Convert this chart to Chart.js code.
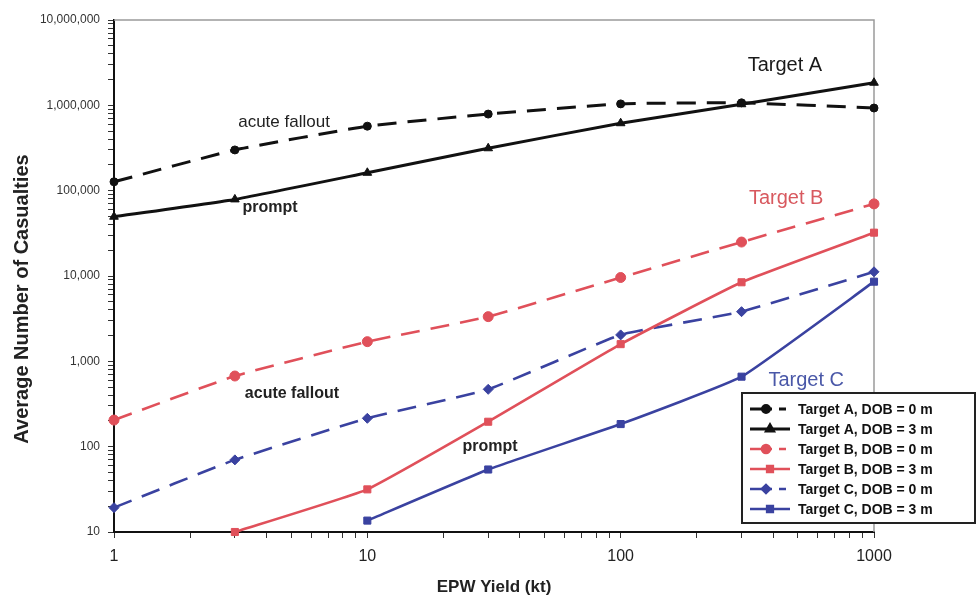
<!DOCTYPE html>
<html>
<head>
<meta charset="utf-8">
<title>Average Number of Casualties vs EPW Yield</title>
<script src="https://cdn.jsdelivr.net/npm/chart.js@4/dist/chart.umd.min.js"></script>
<style>
  html, body { margin: 0; padding: 0; background: #ffffff; }
  #wrap { width: 980px; height: 598px; }
</style>
</head>
<body>
<div id="wrap"><canvas id="chart" width="980" height="598"></canvas></div>
<script>
// Yields (kt) at which casualties were computed
const yields = [1, 3, 10, 30, 100, 300, 1000];

// Average number of casualties per target and depth of burst (null = not computed / below 10)
const targetA_dob0 = [127000, 300000, 570000, 790000, 1040000, 1070000, 930000];
const targetA_dob3 = [49500, 79000, 162000, 314000, 617000, 1030000, 1840000];
const targetB_dob0 = [205, 673, 1700, 3340, 9600, 25000, 70000];
const targetB_dob3 = [null, 10, 31.6, 196, 1590, 8440, 32200];
const targetC_dob0 = [19.3, 70, 215, 470, 2040, 3820, 11200];
const targetC_dob3 = [null, null, 13.6, 54, 184, 661, 8580];

// Axis tick values (every 1..9 step of each decade) and labelled decades
const xTickValues = [1,2,3,4,5,6,7,8,9,10,20,30,40,50,60,70,80,90,100,200,300,400,500,600,700,800,900,1000];
const xTickLabels = [1, 10, 100, 1000];
const yTickLabels = [10, 100, 1000, 10000, 100000, 1000000, 10000000];

const seriesNames = [
  'Target A, DOB = 0 m', 'Target A, DOB = 3 m',
  'Target B, DOB = 0 m', 'Target B, DOB = 3 m',
  'Target C, DOB = 0 m', 'Target C, DOB = 3 m'
];

// Text placed on the plot, anchored in data coordinates
const notes = [
  { text: 'Target A', x: 445, y: 2.9e6, color: '#1a1a1a', font: '20px "Liberation Sans", Arial, sans-serif' },
  { text: 'Target B', x: 450, y: 82000, color: '#d8595f', font: '20px "Liberation Sans", Arial, sans-serif' },
  { text: 'Target C', x: 540, y: 604, color: '#4a58a8', font: '20px "Liberation Sans", Arial, sans-serif' },
  { text: 'acute fallout', x: 4.69, y: 638000, color: '#222', font: '17px "Liberation Sans", Arial, sans-serif' },
  { text: 'prompt', x: 4.13, y: 62700, color: '#222', font: 'bold 16px "Liberation Sans", Arial, sans-serif' },
  { text: 'acute fallout', x: 5.04, y: 414, color: '#222', font: 'bold 16px "Liberation Sans", Arial, sans-serif' },
  { text: 'prompt', x: 30.5, y: 99, color: '#222', font: 'bold 16px "Liberation Sans", Arial, sans-serif' }
];

const BLACK = '#111111';
const RED = '#e0505a';
const BLUE = '#3a42a0';
const DASH = [19, 11];

function points(values) {
  const out = [];
  values.forEach((v, i) => { if (v !== null) out.push({ x: yields[i], y: v }); });
  return out;
}

function series(label, values, color, dashed, style, radius, width) {
  return {
    label: label,
    data: points(values),
    borderColor: color,
    backgroundColor: color,
    borderWidth: width,
    borderDash: dashed ? DASH : [],
    pointStyle: style,
    pointRadius: radius,
    pointBorderWidth: 1,
    pointBackgroundColor: color,
    pointBorderColor: color,
    tension: 0.12,
    fill: false,
    clip: 10,
    isDashed: dashed
  };
}

const datasets = [
  series(seriesNames[0], targetA_dob0, BLACK, true, 'circle', 4, 3),
  series(seriesNames[1], targetA_dob3, BLACK, false, 'triangle', 5, 3),
  series(seriesNames[2], targetB_dob0, RED, true, 'circle', 5, 2.6),
  series(seriesNames[3], targetB_dob3, RED, false, 'rect', 5, 2.6),
  series(seriesNames[4], targetC_dob0, BLUE, true, 'rectRot', 5, 2.6),
  series(seriesNames[5], targetC_dob3, BLUE, false, 'rect', 5, 2.6)
];

function decadeValues(lo, hi) {
  const out = [];
  for (let d = lo; d < hi; d *= 10) {
    for (let n = 1; n <= 9; n++) out.push(n * d);
  }
  out.push(hi);
  return out;
}
const yTickValues = decadeValues(10, 10000000);

// Draws the plot frame, free text, rotated y title and the boxed legend
const decorations = {
  id: 'decorations',
  beforeDatasetsDraw(chart) {
    const { ctx, chartArea: a } = chart;
    ctx.save();
    ctx.strokeStyle = '#9a9a9a';
    ctx.lineWidth = 1.5;
    ctx.beginPath();
    ctx.moveTo(a.left, a.top);
    ctx.lineTo(a.right, a.top);
    ctx.lineTo(a.right, a.bottom);
    ctx.stroke();
    ctx.restore();
  },
  afterDraw(chart) {
    const { ctx, scales } = chart;
    const xs = scales.x, ys = scales.y;
    ctx.save();

    // free text on the plot
    ctx.textAlign = 'center';
    ctx.textBaseline = 'middle';
    notes.forEach(n => {
      ctx.font = n.font;
      ctx.fillStyle = n.color;
      ctx.fillText(n.text, xs.getPixelForValue(n.x), ys.getPixelForValue(n.y));
    });

    // y axis title
    ctx.save();
    ctx.translate(22, 299);
    ctx.rotate(-Math.PI / 2);
    ctx.font = 'bold 20px "Liberation Sans", Arial, sans-serif';
    ctx.fillStyle = '#222';
    ctx.fillText('Average Number of Casualties', 0, 0);
    ctx.restore();

    // legend box
    const bx = 742, by = 393, bw = 233, bh = 130;
    ctx.fillStyle = '#ffffff';
    ctx.fillRect(bx, by, bw, bh);
    ctx.strokeStyle = '#222';
    ctx.lineWidth = 2;
    ctx.strokeRect(bx, by, bw, bh);

    chart.data.datasets.forEach((ds, i) => {
      const y = 409 + i * 20;
      ctx.strokeStyle = ds.borderColor;
      ctx.lineWidth = ds.borderWidth;
      ctx.setLineDash([]);
      ctx.beginPath();
      let mx;
      if (ds.isDashed) {
        ctx.moveTo(750, y); ctx.lineTo(772, y);
        ctx.moveTo(779, y); ctx.lineTo(786, y);
        mx = 766;
      } else {
        ctx.moveTo(750, y); ctx.lineTo(790, y);
        mx = 770;
      }
      ctx.stroke();
      ctx.fillStyle = ds.pointBackgroundColor;
      Chart.helpers.drawPoint(ctx, {
        pointStyle: ds.pointStyle,
        radius: Math.max(3.5, ds.pointRadius - 1),
        rotation: 0,
        borderWidth: 1
      }, mx, y);

      ctx.fillStyle = '#111';
      ctx.font = 'bold 14px "Liberation Sans Narrow", "Liberation Sans", Arial, sans-serif';
      ctx.textAlign = 'left';
      ctx.textBaseline = 'middle';
      ctx.fillText(ds.label, 798, y + 1);
    });
    ctx.restore();
  }
};

new Chart(document.getElementById('chart'), {
  type: 'line',
  data: { datasets: datasets },
  plugins: [decorations],
  options: {
    responsive: false,
    devicePixelRatio: 1,
    animation: false,
    layout: { padding: { top: 20, right: 106, bottom: 0, left: 0 } },
    plugins: {
      legend: { display: false },
      tooltip: { enabled: false }
    },
    scales: {
      x: {
        type: 'logarithmic',
        min: 1,
        max: 1000,
        afterBuildTicks: (scale) => {
          scale.ticks = xTickValues.map(v => ({ value: v }));
        },
        afterFit: (scale) => { scale.height = 66; },
        ticks: {
          autoSkip: false,
          maxRotation: 0,
          padding: 9,
          color: '#222',
          font: { family: '"Liberation Sans", Arial, sans-serif', size: 16 },
          callback: (v) => xTickLabels.includes(v) ? String(v) : ''
        },
        grid: { drawOnChartArea: false, drawTicks: true, tickLength: 6, color: '#333', lineWidth: 1 },
        border: { display: true, color: '#111', width: 2 },
        title: {
          display: true,
          text: 'EPW Yield (kt)',
          color: '#222',
          font: { family: '"Liberation Sans", Arial, sans-serif', size: 17, weight: 'bold' },
          padding: { top: 2, bottom: 0 }
        }
      },
      y: {
        type: 'logarithmic',
        min: 10,
        max: 10000000,
        afterBuildTicks: (scale) => {
          scale.ticks = yTickValues.map(v => ({ value: v }));
        },
        afterFit: (scale) => { scale.width = 114; },
        ticks: {
          autoSkip: false,
          padding: 8,
          color: '#333',
          font: { family: '"Liberation Sans", Arial, sans-serif', size: 12 },
          callback: (v) => yTickLabels.includes(v) ? v.toLocaleString('en-US') : ''
        },
        grid: { drawOnChartArea: false, drawTicks: true, tickLength: 6, color: '#333', lineWidth: 1 },
        border: { display: true, color: '#111', width: 2 }
      }
    }
  }
});
</script>
</body>
</html>
